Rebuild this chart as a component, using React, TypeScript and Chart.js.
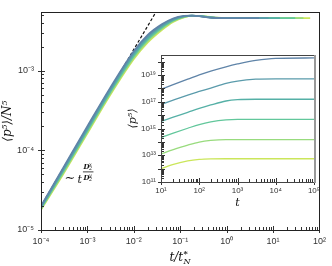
import React, { useEffect, useRef } from "react";
import { Chart, registerables } from "chart.js";

Chart.register(...registerables);

// ---------- data ----------
// main plot: <p^5>/N^5 versus t/t*_N
const MAIN_T = [1e-4, 3e-4, 1e-3, 3e-3, 1e-2, 2e-2, 4e-2, 7e-2, 0.12, 0.18, 0.3, 0.5, 1, 2, 5, 8, 14, 30, 45, 63];
const MAIN_C1 = [2.0e-5, 6.0e-5, 2.0e-4, 5.9e-4, 1.75e-3, 2.8e-3, 3.8e-3, 4.5e-3, 4.85e-3, 4.9e-3, 4.75e-3, 4.6e-3, 4.55e-3, 4.55e-3, 4.55e-3];
const MAIN_C2 = [1.96e-5, 5.8e-5, 1.92e-4, 5.65e-4, 1.67e-3, 2.68e-3, 3.68e-3, 4.42e-3, 4.82e-3, 4.9e-3, 4.77e-3, 4.6e-3, 4.55e-3, 4.55e-3, 4.55e-3, 4.55e-3];
const MAIN_C3 = [1.91e-5, 5.6e-5, 1.84e-4, 5.4e-4, 1.6e-3, 2.57e-3, 3.56e-3, 4.33e-3, 4.78e-3, 4.89e-3, 4.79e-3, 4.62e-3, 4.55e-3, 4.55e-3, 4.55e-3, 4.55e-3, 4.55e-3];
const MAIN_C4 = [1.87e-5, 5.4e-5, 1.77e-4, 5.2e-4, 1.53e-3, 2.46e-3, 3.45e-3, 4.25e-3, 4.74e-3, 4.88e-3, 4.8e-3, 4.63e-3, 4.56e-3, 4.55e-3, 4.55e-3, 4.55e-3, 4.55e-3, 4.55e-3];
const MAIN_C5 = [1.83e-5, 5.2e-5, 1.7e-4, 5.0e-4, 1.46e-3, 2.36e-3, 3.34e-3, 4.17e-3, 4.7e-3, 4.87e-3, 4.81e-3, 4.65e-3, 4.57e-3, 4.55e-3, 4.55e-3, 4.55e-3, 4.55e-3, 4.55e-3, 4.55e-3];
const MAIN_C6 = [1.8e-5, 5.0e-5, 1.63e-4, 4.8e-4, 1.4e-3, 2.26e-3, 3.23e-3, 4.08e-3, 4.65e-3, 4.86e-3, 4.82e-3, 4.66e-3, 4.58e-3, 4.55e-3, 4.55e-3, 4.55e-3, 4.55e-3, 4.55e-3, 4.55e-3, 4.55e-3];
const MAIN_SERIES = [MAIN_C1, MAIN_C2, MAIN_C3, MAIN_C4, MAIN_C5, MAIN_C6];

// dashed power-law guide
const GUIDE_T = [1e-4, 0.04];
const GUIDE_Y = [2e-5, 7.2e-3];

// inset: <p^5> versus t (values stored as log10 exponents)
const INSET_T = [10, 20, 50, 100, 200, 500, 1000, 3000, 1e4, 1e5];
const INSET_LOG_P1 = [17.94, 18.26, 18.69, 19.02, 19.3, 19.62, 19.83, 20.1, 20.25, 20.28];
const INSET_LOG_P2 = [16.81, 17.1, 17.5, 17.77, 18.03, 18.38, 18.55, 18.69, 18.72, 18.72];
const INSET_LOG_P3 = [15.53, 15.83, 16.21, 16.5, 16.76, 17.06, 17.16, 17.19, 17.19, 17.19];
const INSET_LOG_P4 = [14.32, 14.63, 15.02, 15.3, 15.5, 15.65, 15.68, 15.68, 15.68, 15.68];
const INSET_LOG_P5 = [13.1, 13.4, 13.76, 13.99, 14.11, 14.17, 14.17, 14.17, 14.17, 14.17];
const INSET_LOG_P6 = [11.98, 12.3, 12.58, 12.69, 12.73, 12.74, 12.74, 12.74, 12.74, 12.74];
const INSET_SERIES = [INSET_LOG_P1, INSET_LOG_P2, INSET_LOG_P3, INSET_LOG_P4, INSET_LOG_P5, INSET_LOG_P6];

// tick decades
const MAIN_X_DECADES = [-4, -3, -2, -1, 0, 1, 2];
const MAIN_Y_DECADES = [-5, -4, -3];
const INSET_X_DECADES = [1, 2, 3, 4, 5];
const INSET_Y_DECADES = [11, 12, 13, 14, 15, 16, 17, 18, 19, 20];
const INSET_Y_LABELED = [11, 13, 15, 17, 19];

// annotation anchor (data coordinates)
const ANNOT_T = 6.1e-4;
const ANNOT_Y = 3.9e-5;

// ---------- styles ----------
const COLORS = ["#5f84a8", "#5a9bab", "#55b0a6", "#62c79b", "#98db7d", "#cbe65a"];
const SANS = "'Liberation Sans', Arial, sans-serif";
const SERIF = "'DejaVu Serif', 'Liberation Serif', serif";

const SUP: Record<string, string> = {
  "-": "⁻", "0": "⁰", "1": "¹", "2": "²", "3": "³", "4": "⁴", "5": "⁵", "6": "⁶", "7": "⁷", "8": "⁸", "9": "⁹",
};
const pow10Label = (e: number) => "10" + String(e).split("").map((c) => SUP[c] || c).join("");

function buildTicks(decades: number[], max: number) {
  const out: number[] = [];
  decades.forEach((e) => {
    for (let m = 1; m <= 9; m++) {
      const v = m * Math.pow(10, e);
      if (v <= max * 1.0001) out.push(v);
    }
  });
  return out;
}
const isDecade = (v: number) => Math.abs(Math.log10(v) - Math.round(Math.log10(v))) < 1e-6;

function tickMarkPlugin(id: string, boxColor: string, rightColor?: string) {
  return {
    id,
    beforeDraw(chart: any) {
      if (id === "insetMarks") {
        const a = chart.chartArea;
        chart.ctx.save();
        chart.ctx.fillStyle = "#ffffff";
        chart.ctx.fillRect(a.left, a.top, a.right - a.left, a.bottom - a.top);
        chart.ctx.restore();
      }
    },
    afterDraw(chart: any) {
      const ctx = chart.ctx;
      const a = chart.chartArea;
      ctx.save();
      ctx.strokeStyle = "#333";
      ctx.lineWidth = 1;
      const sx = chart.scales.x;
      const sy = chart.scales.y;
      sx.ticks.forEach((t: any) => {
        const p = Math.round(sx.getPixelForValue(t.value)) + 0.5;
        const major = isDecade(t.value);
        ctx.beginPath();
        ctx.moveTo(p, a.bottom + (major ? 3 : 0));
        ctx.lineTo(p, a.bottom - (major ? 4 : 3));
        ctx.stroke();
      });
      sy.ticks.forEach((t: any) => {
        const p = Math.round(sy.getPixelForValue(t.value)) + 0.5;
        const major = isDecade(t.value);
        ctx.beginPath();
        ctx.moveTo(a.left - (major ? 3 : 0), p);
        ctx.lineTo(a.left + (major ? 4 : 3), p);
        ctx.stroke();
      });
      ctx.strokeStyle = boxColor;
      ctx.lineWidth = 1;
      ctx.strokeRect(Math.round(a.left) + 0.5, Math.round(a.top) + 0.5, Math.round(a.right - a.left), Math.round(a.bottom - a.top));
      if (rightColor) {
        ctx.strokeStyle = rightColor;
        ctx.lineWidth = 2;
        ctx.beginPath();
        ctx.moveTo(Math.round(a.right) + 1, a.top);
        ctx.lineTo(Math.round(a.right) + 1, a.bottom + 1);
        ctx.stroke();
      }
      ctx.restore();
    },
  };
}

const mainTextPlugin = {
  id: "mainText",
  afterDraw(chart: any) {
    const ctx = chart.ctx;
    const sx = chart.scales.x;
    const sy = chart.scales.y;
    ctx.save();
    ctx.fillStyle = "#111";
    ctx.textBaseline = "alphabetic";
    // x title  t/t*_N
    const cx = (sx.left + sx.right) / 2;
    ctx.font = `italic 12px ${SERIF}`;
    const main = "t/t";
    const w1 = ctx.measureText(main).width;
    ctx.font = `italic 8px ${SERIF}`;
    const w2 = ctx.measureText("N").width;
    const total = w1 + w2 + 1;
    let x0 = cx - total / 2;
    const base = 261;
    ctx.font = `italic 12px ${SERIF}`;
    ctx.fillText(main, x0, base);
    ctx.font = `bold 8px ${SERIF}`;
    ctx.fillText("*", x0 + w1 + 0.5, base - 5);
    ctx.font = `italic 8px ${SERIF}`;
    ctx.fillText("N", x0 + w1 + 0.5, base + 3);

    // annotation  ~ t^(D2x / D2y)
    const ax = sx.getPixelForValue(ANNOT_T);
    const ay = sy.getPixelForValue(ANNOT_Y);
    ctx.font = `13px ${SERIF}`;
    ctx.textAlign = "right";
    ctx.fillText("∼", ax - 2, ay - 1);
    ctx.textAlign = "left";
    ctx.font = `italic 11px ${SERIF}`;
    ctx.fillText("t", ax, ay);
    const fx = ax + 6;
    ctx.font = `italic bold 7px ${SERIF}`;
    ctx.fillText("D", fx, ay - 14);
    ctx.fillText("D", fx, ay - 3);
    ctx.font = `italic 5px ${SERIF}`;
    ctx.fillText("x", fx + 5.5, ay - 17);
    ctx.fillText("2", fx + 5.5, ay - 12.5);
    ctx.fillText("y", fx + 5.5, ay - 6);
    ctx.fillText("2", fx + 5.5, ay - 1.5);
    ctx.strokeStyle = "#111";
    ctx.lineWidth = 0.8;
    ctx.beginPath();
    ctx.moveTo(fx - 0.5, ay - 11);
    ctx.lineTo(fx + 10, ay - 11);
    ctx.stroke();
    ctx.restore();
  },
};

const tickFont = (size: number) => ({ family: SANS, size });

export default function App() {
  const mainRef = useRef<HTMLCanvasElement>(null);
  const insetRef = useRef<HTMLCanvasElement>(null);

  useEffect(() => {
    const mainXTicks = buildTicks(MAIN_X_DECADES, 100);
    const mainYTicks = buildTicks(MAIN_Y_DECADES, 5.37e-3);
    const insetXTicks = buildTicks(INSET_X_DECADES, 1e5);
    const insetYTicks = buildTicks(INSET_Y_DECADES, Math.pow(10, 20.5));

    const mainDatasets: any[] = MAIN_SERIES.map((ys, k) => ({
      data: ys.map((y, i) => ({ x: MAIN_T[i], y })),
      borderColor: COLORS[k],
      borderWidth: 1.8,
      pointRadius: 0,
      fill: false,
      cubicInterpolationMode: "monotone",
    }));
    mainDatasets.push({
      data: GUIDE_T.map((t, i) => ({ x: t, y: GUIDE_Y[i] })),
      borderColor: "#111",
      borderWidth: 1.2,
      borderDash: [3, 2],
      pointRadius: 0,
      fill: false,
    });

    const main = new Chart(mainRef.current!, {
      type: "line",
      data: { datasets: mainDatasets },
      options: {
        animation: false,
        responsive: false,
        events: [],
        layout: { padding: { left: 0, top: 2, right: 9, bottom: 0 } },
        plugins: { legend: { display: false }, tooltip: { enabled: false } },
        scales: {
          x: {
            type: "logarithmic",
            min: 1e-4,
            max: 100,
            afterBuildTicks: (s: any) => {
              s.ticks = mainXTicks.map((v) => ({ value: v }));
            },
            afterFit: (s: any) => {
              s.height = 36;
            },
            grid: { display: false, drawTicks: false },
            border: { display: false },
            ticks: {
              autoSkip: false,
              maxRotation: 0,
              padding: 6,
              color: "#333",
              font: tickFont(9),
              callback: (v: any) => (isDecade(Number(v)) ? pow10Label(Math.round(Math.log10(Number(v)))) : ""),
            },
          },
          y: {
            type: "logarithmic",
            min: 1e-5,
            max: 5.37e-3,
            afterBuildTicks: (s: any) => {
              s.ticks = mainYTicks.map((v) => ({ value: v }));
            },
            afterFit: (s: any) => {
              s.width = 41;
            },
            grid: { display: false, drawTicks: false },
            border: { display: false },
            title: {
              display: true,
              text: "⟨p⁵⟩/N⁵",
              color: "#111",
              font: { family: SERIF, size: 12, style: "italic" },
              padding: { top: 1, bottom: 0 },
            },
            ticks: {
              autoSkip: false,
              padding: 7,
              color: "#333",
              font: tickFont(9),
              callback: (v: any) => (isDecade(Number(v)) ? pow10Label(Math.round(Math.log10(Number(v)))) : ""),
            },
          },
        },
      } as any,
      plugins: [tickMarkPlugin("mainMarks", "#222"), mainTextPlugin],
    });

    const insetDatasets: any[] = INSET_SERIES.map((lp, k) => ({
      data: lp.map((e, i) => ({ x: INSET_T[i], y: Math.pow(10, e) })),
      borderColor: COLORS[k],
      borderWidth: 1.3,
      pointRadius: 0,
      fill: false,
      cubicInterpolationMode: "monotone",
    }));

    const inset = new Chart(insetRef.current!, {
      type: "line",
      data: { datasets: insetDatasets },
      options: {
        animation: false,
        responsive: false,
        events: [],
        layout: { padding: { left: 121, top: 55, right: 18, bottom: 54 } },
        plugins: { legend: { display: false }, tooltip: { enabled: false } },
        scales: {
          x: {
            type: "logarithmic",
            min: 10,
            max: 1e5,
            afterBuildTicks: (s: any) => {
              s.ticks = insetXTicks.map((v) => ({ value: v }));
            },
            afterFit: (s: any) => {
              s.height = 30;
            },
            grid: { display: false, drawTicks: false },
            border: { display: false },
            title: {
              display: true,
              text: "t",
              color: "#111",
              font: { family: SERIF, size: 11, style: "italic" },
              padding: { top: 0, bottom: 2 },
            },
            ticks: {
              autoSkip: false,
              maxRotation: 0,
              padding: 4,
              color: "#333",
              font: tickFont(8),
              callback: (v: any) => (isDecade(Number(v)) ? pow10Label(Math.round(Math.log10(Number(v)))) : ""),
            },
          },
          y: {
            type: "logarithmic",
            min: 1e11,
            max: Math.pow(10, 20.5),
            afterBuildTicks: (s: any) => {
              s.ticks = insetYTicks.map((v) => ({ value: v }));
            },
            afterFit: (s: any) => {
              s.width = 40;
            },
            grid: { display: false, drawTicks: false },
            border: { display: false },
            title: {
              display: true,
              text: "⟨p⁵⟩",
              color: "#111",
              font: { family: SERIF, size: 11, style: "italic" },
              padding: { top: 6, bottom: 0 },
            },
            ticks: {
              autoSkip: false,
              padding: 5,
              color: "#333",
              font: tickFont(8),
              callback: (v: any) => {
                const n = Number(v);
                if (!isDecade(n)) return "";
                const e = Math.round(Math.log10(n));
                return INSET_Y_LABELED.includes(e) ? pow10Label(e) : "";
              },
            },
          },
        },
      } as any,
      plugins: [tickMarkPlugin("insetMarks", "#444", "#999")],
    });

    return () => {
      main.destroy();
      inset.destroy();
    };
  }, []);

  return (
    <div style={{ position: "fixed", left: 0, top: 0, width: 332, height: 266, background: "#fff" }}>
      <canvas ref={mainRef} width={332} height={266} style={{ position: "absolute", left: 0, top: 0 }} />
      <canvas ref={insetRef} width={332} height={266} style={{ position: "absolute", left: 0, top: 0 }} />
    </div>
  );
}
